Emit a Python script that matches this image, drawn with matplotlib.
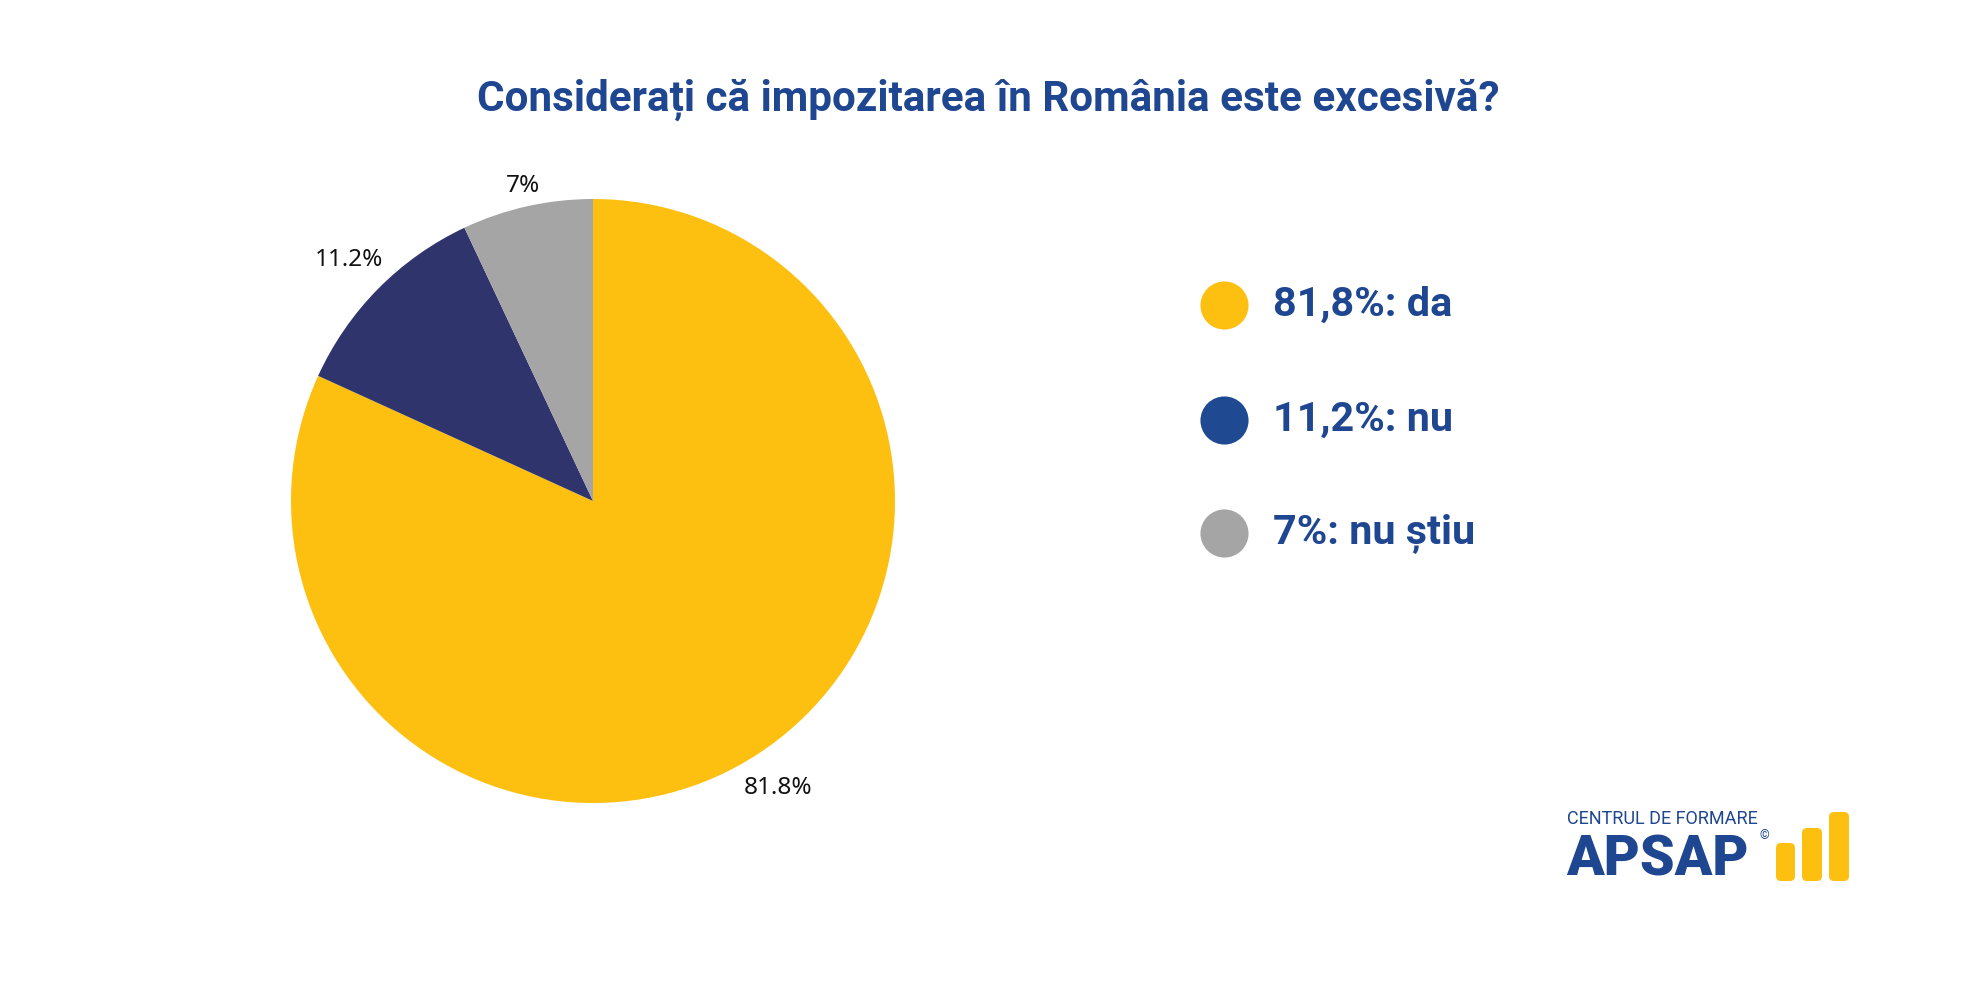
import numpy as np
import matplotlib.pyplot as plt
from matplotlib.patches import FancyBboxPatch

# %% Data
answers = ['da', 'nu', 'nu știu']
shares = [81.8, 11.2, 7.0]
pie_colors = ['#FDC010', '#30346C', '#A5A5A5']
legend_colors = ['#FDC010', '#1F4A91', '#A5A5A5']
title = 'Considerați că impozitarea în România este excesivă?'

blue = '#1F4690'
W, H = 1965, 997

fig = plt.figure(figsize=(W / 100, H / 100), dpi=100)

# %% Pie
cx, cy, r = 593, 501, 302
ax = fig.add_axes([(cx - r) / W, (H - cy - r) / H, 2 * r / W, 2 * r / H])
wedges, _ = ax.pie(shares, colors=pie_colors, startangle=90, counterclock=False)
ax.set_xlim(-1, 1)
ax.set_ylim(-1, 1)
ax.set_aspect('auto')

# labels sit outside the slices, a bit further out on the small ones
label_dist = [1.13, 1.136, 1.07]
for w, v, d in zip(wedges, shares, label_dist):
    mid = np.deg2rad((w.theta1 + w.theta2) / 2)
    ax.text(d * np.cos(mid), d * np.sin(mid), f'{v:g}%', ha='center', va='center',
            fontsize=17.5, color='#111111', family='Noto Sans')

# %% Overlay in pixel coords for title, legend and logo
ov = fig.add_axes([0, 0, 1, 1], zorder=-1)
ov.set_xlim(0, W)
ov.set_ylim(H, 0)
ov.axis('off')

ov.text(988, 100, title, ha='center', va='center', fontsize=30.4,
        fontweight='bold', color=blue, family='Roboto')

# legend
leg_y = [305, 420, 533]
for y, ans, v, col in zip(leg_y, answers, shares, legend_colors):
    ov.scatter([1224], [y], s=1200, color=col, linewidths=0)
    txt = f'{v:g}%: {ans}'.replace('.', ',')
    ov.text(1273, y, txt, ha='left', va='center', fontsize=29.8,
            fontweight='bold', color=blue, family='Roboto')

# logo
ov.text(1567, 819, 'CENTRUL DE FORMARE', ha='left', va='center', fontsize=13,
        color=blue, family='Roboto')
ov.text(1566, 860, 'APSAP', ha='left', va='center', fontsize=40,
        fontweight='black', color=blue, family='Roboto')
ov.text(1764, 836, '©', ha='center', va='center', fontsize=9, color=blue,
        family='Roboto')
for x0, x1, top in [(1776, 1795, 843), (1802, 1822, 828), (1829, 1849, 812)]:
    ov.add_patch(FancyBboxPatch((x0, top), x1 - x0, 881 - top,
                                boxstyle='round,pad=0,rounding_size=5',
                                color='#FDC010', linewidth=0))

fig.savefig('out.png', dpi=100, facecolor='white')
